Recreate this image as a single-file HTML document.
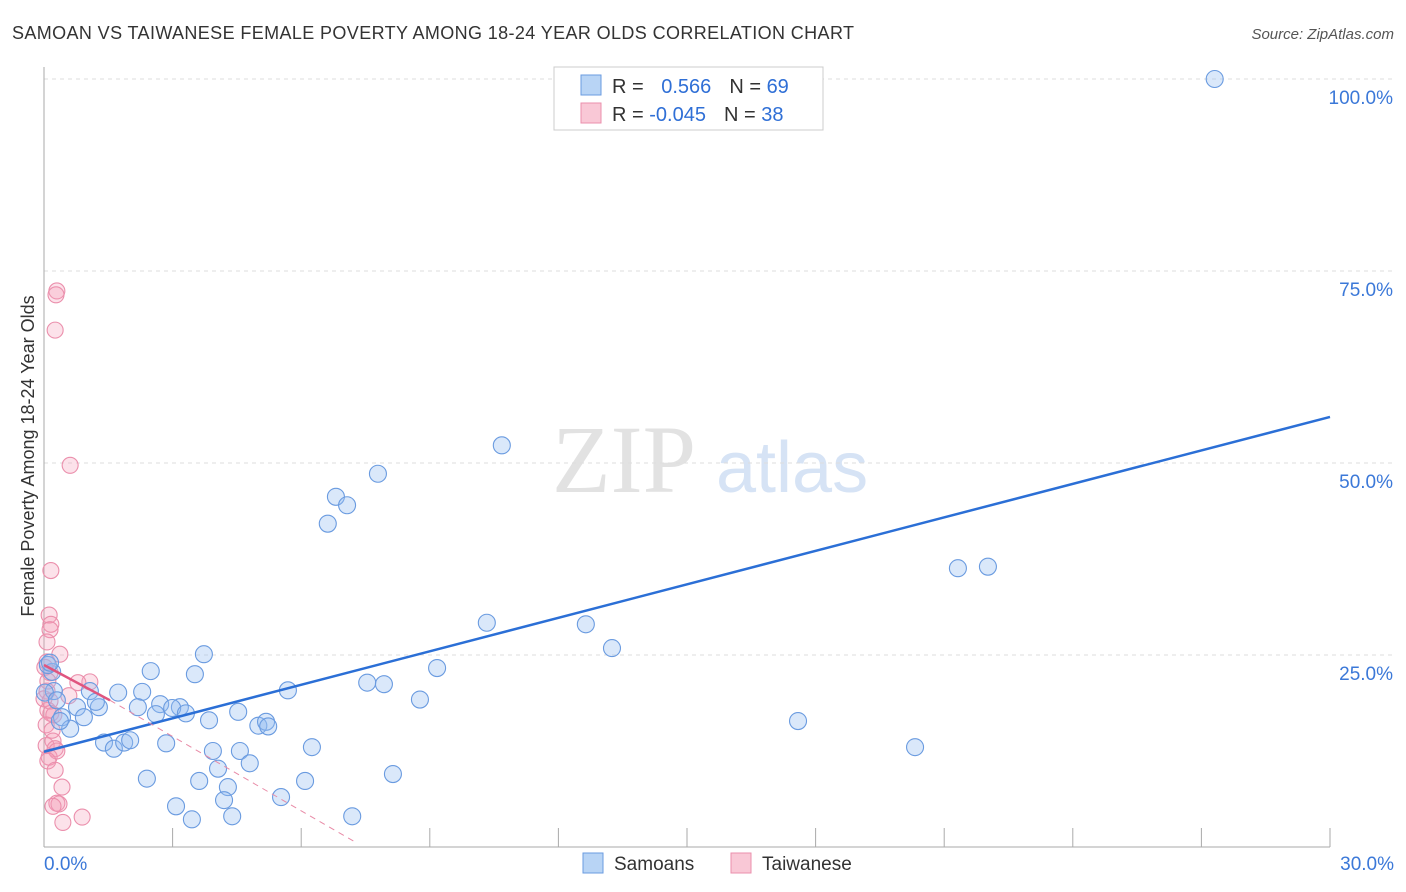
<!DOCTYPE html>
<html><head><meta charset="utf-8"><style>
body{margin:0;background:#fff;font-family:"Liberation Sans",sans-serif;}
svg{display:block}
</style></head><body>
<svg id="chart" width="1406" height="892" xmlns="http://www.w3.org/2000/svg">
<text x="12" y="39" font-size="18" fill="#333" textLength="842">SAMOAN VS TAIWANESE FEMALE POVERTY AMONG 18-24 YEAR OLDS CORRELATION CHART</text>
<text x="1394" y="39" font-size="15" fill="#555" font-style="italic" text-anchor="end">Source: ZipAtlas.com</text>
<g>
<text x="552" y="492" font-size="96" font-family="Liberation Serif,serif" fill="#e2e2e2">ZIP</text>
<text x="716" y="492" font-size="72" fill="#d6e3f5">atlas</text>
</g>
<g id="grid"></g>
<g id="axes"></g>
<g id="marks"></g>
<g>
<rect x="554" y="67" width="269" height="63" fill="#fff" stroke="#ccc"/>
<rect x="581" y="75" width="20" height="20" fill="#b8d4f5" stroke="#6a9be0"/>
<rect x="581" y="103" width="20" height="20" fill="#f9c8d6" stroke="#eb8fac"/>
<text x="612" y="93" font-size="20" fill="#333">R = <tspan fill="#2f6fd6" dx="12">0.566</tspan><tspan dx="18" fill="#333">N = </tspan><tspan fill="#2f6fd6">69</tspan></text>
<text x="612" y="121" font-size="20" fill="#333">R = <tspan fill="#2f6fd6">-0.045</tspan><tspan dx="18" fill="#333">N = </tspan><tspan fill="#2f6fd6">38</tspan></text>
</g>
<g>
<rect x="583" y="853" width="20" height="20" fill="#b8d4f5" stroke="#6a9be0"/>
<text x="614" y="870" font-size="19" fill="#333">Samoans</text>
<rect x="731" y="853" width="20" height="20" fill="#f9c8d6" stroke="#eb8fac"/>
<text x="762" y="870" font-size="19" fill="#333">Taiwanese</text>
</g>
<text transform="translate(34,456) rotate(-90)" font-size="18" fill="#333" text-anchor="middle">Female Poverty Among 18-24 Year Olds</text>
</svg>
<script>
const yTicks=[25,50,75,100];
const yTickLabels=["25.0%","50.0%","75.0%","100.0%"];
const xTicks=[0,3,6,9,12,15,18,21,24,27,30];
const xEndLabels=["0.0%","30.0%"];
const samoanX=[27.31,10.68,7.79,6.81,7.07,6.62,21.32,22.02,10.33,12.64,13.25,9.17,3.73,2.49,3.52,7.54,7.93,5.69,1.73,2.29,8.77,1.07,0.23,0.02,2.71,3.17,2.99,3.31,2.61,2.19,1.28,0.77,1.21,0.93,0.42,0.61,4.53,3.85,5.0,5.18,5.23,17.59,20.32,1.4,1.63,1.87,2.01,2.85,6.25,3.94,4.57,4.8,4.06,2.4,3.62,6.09,8.14,4.29,5.53,4.2,3.08,4.39,7.19,3.45,0.37,0.19,0.09,0.14,0.3];
const samoanY=[100,52.3,48.6,45.6,44.5,42.1,36.3,36.5,29.2,29.0,25.9,23.3,25.1,22.9,22.5,21.4,21.2,20.4,20.1,20.2,19.2,20.3,20.3,20.1,18.6,18.2,18.1,17.4,17.3,18.2,18.2,18.2,18.9,16.9,16.9,15.4,17.6,16.5,15.8,16.3,15.7,16.4,13.0,13.6,12.8,13.6,13.9,13.5,13.0,12.5,12.5,10.9,10.2,8.9,8.6,8.6,9.5,7.8,6.5,6.1,5.3,4.0,4.0,3.6,16.4,22.8,23.7,24.0,19.1];
const taiwanX=[0.3,0.28,0.26,0.61,0.16,0.12,0.16,0.14,0.37,0.07,0.07,0.14,1.07,0.79,0.58,0.07,0.0,0.09,0.16,0.23,0.21,0.05,0.26,0.12,0.42,0.3,0.35,0.21,0.44,0.89,0.02,0.09,0.14,0.05,0.19,0.3,0.09,0.26];
const taiwanY=[72.4,71.9,67.3,49.7,36.0,30.2,29.0,28.3,25.1,26.7,24.1,22.7,21.5,21.4,19.7,20.3,19.3,17.8,17.4,17.2,13.8,13.2,12.8,11.7,7.8,5.7,5.6,5.3,3.2,3.9,23.4,21.6,19.0,15.9,15.2,12.5,11.2,10.0];
const blueTrend=[[0,12.4],[30,56.0]];
const pinkTrend=[[0,23.7],[1.54,19.1],[7.26,0.65]];
const X=v=>44+v/30*1286, Y=v=>847-v/100*768;
const NS="http://www.w3.org/2000/svg";
function mk(t,a,p){const e=document.createElementNS(NS,t);for(const k in a)e.setAttribute(k,a[k]);p.appendChild(e);return e;}
const grid=document.getElementById('grid'),axes=document.getElementById('axes'),marks=document.getElementById('marks');
yTicks.forEach((t,i)=>{
 const l=mk('line',{x1:44,x2:1394,y1:Y(t),y2:Y(t),stroke:'#ddd','stroke-dasharray':'4,4'},grid);
 
 
 const tx=mk('text',{x:1393,y:Y(t)+25,'font-size':19,fill:'#3b78d8','text-anchor':'end'},axes);
 tx.textContent=yTickLabels[i];
 
 
});
mk('line',{x1:44,x2:44,y1:67,y2:847,stroke:'#aaa'},axes);
mk('line',{x1:44,x2:1330,y1:847,y2:847,stroke:'#aaa'},axes);
xTicks.forEach(t=>{
 const l=mk('line',{x1:X(t),x2:X(t),y1:828,y2:847,stroke:'#aaa'},axes);
 
 
});
[[0,'start',44],[30,'end',1394]].forEach((d,i)=>{
 const tx=mk('text',{x:d[2],y:870,'font-size':19,fill:'#3b78d8','text-anchor':d[1]},axes);
 tx.textContent=xEndLabels[i];
 
 
});
taiwanX.forEach((x,i)=>{
 const c=mk('circle',{cx:X(x),cy:Y(taiwanY[i]),r:8,fill:'rgba(245,160,185,0.3)',stroke:'#eb8fac','stroke-width':1.1},marks);
 
 
});
samoanX.forEach((x,i)=>{
 const c=mk('circle',{cx:X(x),cy:Y(samoanY[i]),r:8.5,fill:'rgba(150,190,240,0.35)',stroke:'#6a9be0','stroke-width':1.1},marks);
 
 
});
const bl=mk('line',{x1:X(blueTrend[0][0]),y1:Y(blueTrend[0][1]),x2:X(blueTrend[1][0]),y2:Y(blueTrend[1][1]),stroke:'#2b6fd6','stroke-width':2.5},marks);


const p1=mk('line',{x1:X(pinkTrend[0][0]),y1:Y(pinkTrend[0][1]),x2:X(pinkTrend[1][0]),y2:Y(pinkTrend[1][1]),stroke:'#e0557f','stroke-width':2.5},marks);


const p2=mk('line',{x1:X(pinkTrend[1][0]),y1:Y(pinkTrend[1][1]),x2:X(pinkTrend[2][0]),y2:Y(pinkTrend[2][1]),stroke:'#e88aa6','stroke-width':1,'stroke-dasharray':'6,5'},marks);


</script>
</body></html>
